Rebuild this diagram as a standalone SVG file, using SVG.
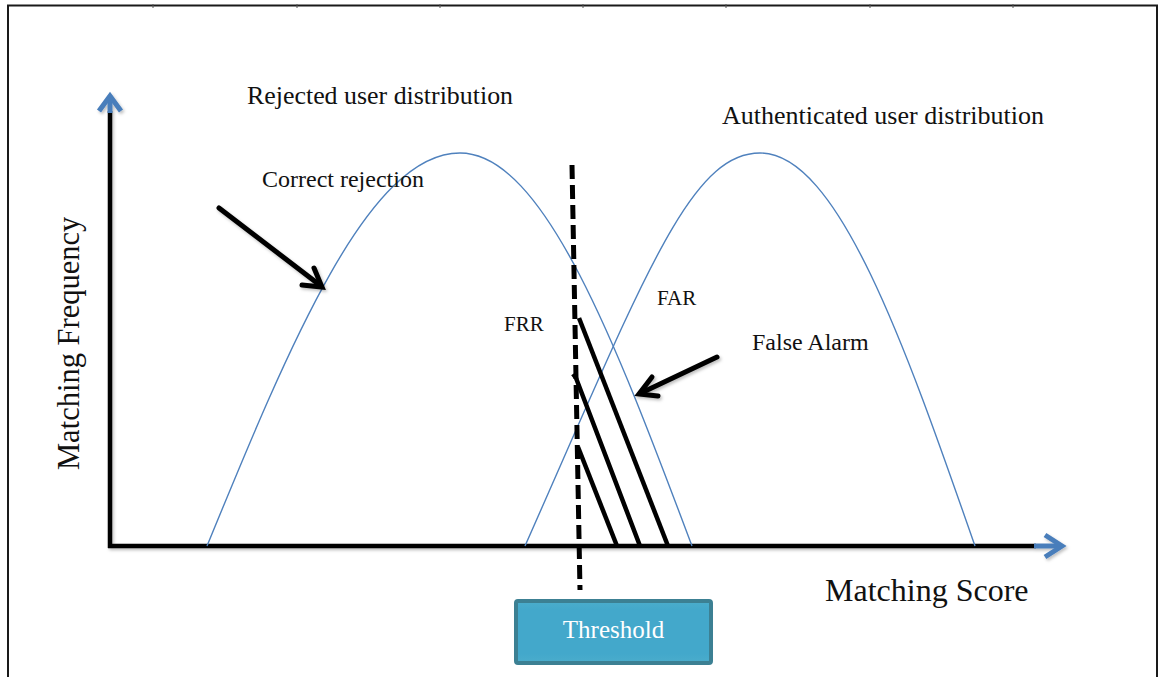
<svg xmlns="http://www.w3.org/2000/svg" width="1160" height="677" viewBox="0 0 1160 677">
  <style>
    .lbl { font-family: "Liberation Serif", "Times New Roman", serif; fill: #111; }
    .curve { fill: none; stroke: #4F81BD; stroke-width: 1.4; }
    .axis { fill: none; stroke: #000; stroke-width: 4.5; }
    .axis-head { fill: none; stroke: #4A7EBB; stroke-width: 5; stroke-linecap: butt; stroke-linejoin: miter; }
    .pointer { fill: none; stroke: #000; stroke-width: 5; stroke-linecap: round; stroke-linejoin: miter; }
    .hatch { fill: none; stroke: #000; stroke-width: 4.5; }
    .frame { fill: none; stroke: #1a1a1a; stroke-width: 2; }
  </style>
  <defs>
    <filter id="shadow" x="-10%" y="-10%" width="120%" height="120%">
      <feDropShadow dx="1.5" dy="2" stdDeviation="1.5" flood-color="#000" flood-opacity="0.25"/>
    </filter>
    <linearGradient id="boxFill" x1="0" y1="0" x2="0" y2="1">
      <stop offset="0" stop-color="#4BADCC"/>
      <stop offset="0.15" stop-color="#43A8CB"/>
      <stop offset="0.85" stop-color="#43A8CB"/>
      <stop offset="1" stop-color="#4BADCC"/>
    </linearGradient>
    <clipPath id="alarmClip">
      <rect x="740" y="320" width="131" height="45"/>
    </clipPath>
  </defs>

  <rect x="0" y="0" width="1160" height="677" fill="#fff"/>

  <!-- page frame -->
  <g id="frame">
    <path class="frame" d="M8,677 V5.5 H1157 V677"/>
    <path d="M153,4 v4 M297,4 v4 M440,4 v4 M583,4 v4 M726,4 v4 M870,4 v4 M1013,4 v4" stroke="#555" stroke-width="1"/>
  </g>

  <!-- axes -->
  <g id="axes" filter="url(#shadow)">
    <path class="axis" d="M110,548 V111"/>
    <path class="axis-head" d="M110,113 V97"/>
    <polyline class="axis-head" points="99,111 110,96 121,111"/>
    <path class="axis" d="M108,546 H1036"/>
    <path class="axis-head" d="M1034,546 H1062"/>
    <polyline class="axis-head" points="1045,535 1062,546 1045,557"/>
  </g>

  <!-- distributions -->
  <g id="rejected-distribution">
    <path class="curve" d="M207,546 C289.5,344.8 368.4,153 460,153 C544,153 616.4,344.8 692,546"/>
  </g>
  <g id="authenticated-distribution">
    <path class="curve" d="M525,546 C645,275 690,153 760,153 C837.8,153 904.9,344.8 975,546"/>
  </g>

  <!-- error region hatching and threshold -->
  <g id="error-hatching">
    <path class="hatch" d="M579,318 L668,546"/>
    <path class="hatch" d="M573,374 L576,378 L640,546"/>
    <path class="hatch" d="M578,447 L617,546"/>
  </g>
  <g id="threshold-line">
    <path d="M572,165 L580,590" fill="none" stroke="#000" stroke-width="5" stroke-dasharray="14 6"/>
  </g>

  <!-- pointer arrows -->
  <g id="connectors" filter="url(#shadow)">
    <path class="pointer" d="M219,208 L321,286"/>
    <polyline class="pointer" points="314,268 322,287 302,285"/>
    <path class="pointer" d="M717,357 L641,393"/>
    <polyline class="pointer" points="652,377 639,394 658,396"/>
  </g>

  <!-- labels -->
  <g id="labels">
    <text class="lbl" x="247" y="104" font-size="25.9">Rejected user distribution</text>
    <text class="lbl" x="722" y="124" font-size="26">Authenticated user distribution</text>
    <text class="lbl" x="262" y="187" font-size="24">Correct rejection</text>
    <text class="lbl" x="504" y="331" font-size="21">FRR</text>
    <text class="lbl" x="657" y="305" font-size="21">FAR</text>
    <text class="lbl" x="752" y="350" font-size="24" clip-path="url(#alarmClip)">False Alarm</text>
    <text class="lbl" x="825" y="601" font-size="32">Matching Score</text>
    <text class="lbl" transform="translate(79,470) rotate(-90)" x="0" y="0" font-size="30.5">Matching Frequency</text>
  </g>

  <!-- threshold box -->
  <g id="threshold">
    <rect x="516" y="601" width="195" height="62" rx="2" fill="url(#boxFill)" stroke="#3C8093" stroke-width="4"/>
    <text x="613.5" y="638" font-size="25" text-anchor="middle" fill="#fff" font-family="Liberation Serif, Times New Roman, serif">Threshold</text>
  </g>
</svg>
